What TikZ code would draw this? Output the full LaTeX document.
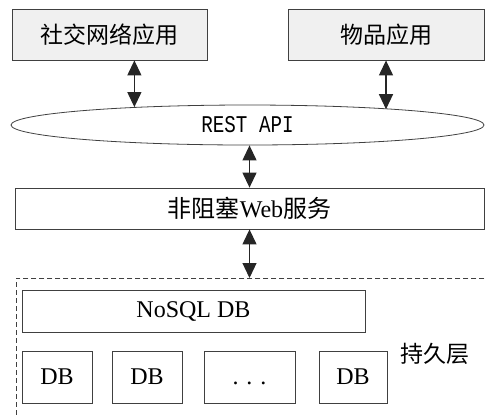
\documentclass[tikz,border=0pt]{standalone}
\usepackage{fontspec}
\setmainfont{Liberation Serif}
\newfontfamily\cjk{Noto Sans CJK SC}
\newfontfamily\apifont{Liberation Mono}
\usetikzlibrary{arrows.meta,shapes.geometric}
\tikzstyle{app}=[draw=black!75,fill=black!6,inner sep=0pt,minimum height=25.5pt,font=\cjk\fontsize{11.5}{14}\selectfont]
\tikzstyle{box}=[draw=black!75,fill=white,inner sep=0pt,font=\fontsize{12}{14}\selectfont]
\tikzstyle{link}=[draw=black!85,line width=0.6pt,{Triangle[width=7pt,length=7.5pt]}-{Triangle[width=7pt,length=7.5pt]}]

\begin{document}
\begin{tikzpicture}[x=0.5pt,y=-0.5pt]
				\useasboundingbox (0,0) rectangle (485,414);
				\clip (0,0) rectangle (485,414);
				% First the applications and the API
				\node[app,minimum width=97.5pt] (social) at (109.5,34.5) {社交网络应用};
				\node[app,minimum width=98pt] (item) at (386,34.5) {物品应用};
				\node[draw=black!75,ellipse,inner sep=0pt,minimum width=236.5pt,minimum height=20pt,font=\apifont\fontsize{12}{14}\selectfont] (api) at (247.5,125) {\scalebox{0.8}[1]{REST API}};
				\node[box,minimum width=234.5pt,minimum height=20.5pt] (web) at (249.5,208.5) {{\cjk 非阻塞}Web{\cjk 服务}};
	
				% Persistence layer, running off the page
				\node[draw=black!75,dashed,dash pattern=on 2.5pt off 1.5pt,minimum width=260pt,minimum height=110pt,anchor=north west] (store) at (16,278) {};
				\node[box,minimum width=171.5pt,minimum height=21pt] (nosql) at (193.5,311) {NoSQL DB};
				\foreach \pos/\name/\w/\txt in {{(57,377)/db1/35pt/DB}, {(147,377)/db2/35pt/DB},
										{(249.5,377)/dots/45.5pt/{\vphantom{DB}. . .}}, {(353,377)/db3/34pt/DB}}
				\node[box,minimum width=\w,minimum height=26pt] (\name) at \pos {\txt};
				\node[font=\cjk\fontsize{11.5}{14}\selectfont] (layer) at (435,354) {持久层};
	
				% Connect them
				\draw[link] (social.south -| api.171.5) -- (api.171.5);
				\draw[link] (item.south) -- (item.south |- api.6.7);
				\draw[link] (web.north |- api.south) -- (web.north);
				\draw[link] (web.south) -- (web.south |- store.north);
			\end{tikzpicture}
\end{document}
